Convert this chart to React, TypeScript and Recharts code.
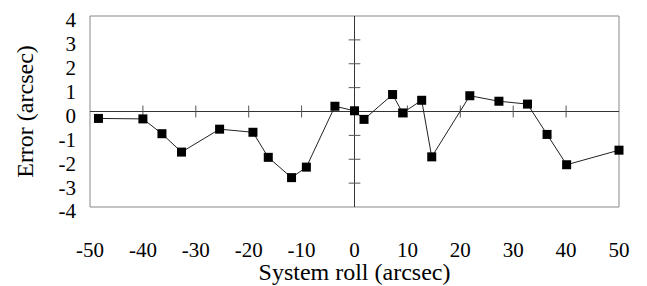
import { Label, Line, LineChart, ReferenceArea, ReferenceLine, XAxis, YAxis } from 'recharts'

const rollArcsec = [-48.4, -40.0, -36.4, -32.7, -25.5, -19.2, -16.3, -11.9, -9.1, -3.7, 0, 1.8, 7.2, 9.1, 12.7, 14.6, 21.8, 27.3, 32.7, 36.4, 40.1, 50.0]
const errorArcsec = [-0.29, -0.31, -0.93, -1.7, -0.74, -0.87, -1.92, -2.77, -2.33, 0.22, 0.03, -0.33, 0.71, -0.06, 0.47, -1.9, 0.66, 0.43, 0.31, -0.96, -2.23, -1.62]
const xTicks = [-50, -40, -30, -20, -10, 0, 10, 20, 30, 40, 50]
const yTicks = [-4, -3, -2, -1, 0, 1, 2, 3, 4]
// marks drawn on the axes that cross at zero
const innerXTicks = [-40, -30, -20, -10, 10, 20, 30, 40]
const innerYTicks = [-3, -2, -1, 1, 2, 3]

const FONT = '"Liberation Serif", "Times New Roman", serif'

const data = rollArcsec.map((x, i) => ({ x, y: errorArcsec[i] }))

function SquareDot(props: { cx?: number; cy?: number; index?: number }) {
  const { cx = 0, cy = 0, index } = props
  return <rect key={`dot-${index}`} x={cx - 4.5} y={cy - 4.5} width={9} height={9} fill="#000" />
}

function YTick({ x, y, payload }: { x: number; y: number; payload: { value: number } }) {
  return (
    <text x={x} y={y + 4} dy="0.355em" textAnchor="end" fontSize={21} fontFamily={FONT} fill="#000">
      {payload.value}
    </text>
  )
}

function XTick({ x, y, payload }: { x: number; y: number; payload: { value: number } }) {
  return (
    <text x={x} y={y} dy="0.71em" textAnchor="middle" fontSize={21} fontFamily={FONT} fill="#000">
      {payload.value}
    </text>
  )
}

function YTitle({ viewBox }: { viewBox?: { x: number; y: number; height: number } }) {
  const vb = viewBox ?? { x: 0, y: 16, height: 191 }
  const cx = vb.x + 33
  const cy = vb.y + vb.height / 2
  return (
    <text x={cx} y={cy} textAnchor="middle" transform={`rotate(-90, ${cx}, ${cy})`} fontSize={24} fontFamily={FONT} fill="#000">
      Error (arcsec)
    </text>
  )
}

export default function App() {
  return (
    <div style={{ position: 'absolute', left: 0, top: 0, background: '#fff' }}>
      <LineChart width={647} height={286} data={data} margin={{ top: 16, right: 28, bottom: 0, left: 0 }}>
        <ReferenceArea x1={-50} x2={50} y1={-4} y2={4} fill="none" stroke="#888" strokeWidth={1} />
        <XAxis
          dataKey="x"
          type="number"
          domain={[-50, 50]}
          ticks={xTicks}
          interval={0}
          height={79}
          axisLine={false}
          tickLine={false}
          tickSize={0}
          tickMargin={35}
          tick={XTick}
        >
          <Label value="System roll (arcsec)" position="insideBottom" offset={6} fontSize={24} fontFamily={FONT} fill="#000" />
        </XAxis>
        <YAxis
          type="number"
          domain={[-4, 4]}
          ticks={yTicks}
          interval={0}
          width={90}
          axisLine={false}
          tickLine={false}
          tickSize={0}
          tickMargin={14}
          tick={YTick}
        >
          <Label content={YTitle} />
        </YAxis>
        <ReferenceLine y={0} stroke="#333" strokeWidth={1} />
        <ReferenceLine x={0} stroke="#333" strokeWidth={1} />
        {innerXTicks.map(t => (
          <ReferenceLine key={`xt${t}`} segment={[{ x: t, y: -0.25 }, { x: t, y: 0.25 }]} stroke="#555" strokeWidth={1} />
        ))}
        {innerYTicks.map(t => (
          <ReferenceLine key={`yt${t}`} segment={[{ x: -1.1, y: t }, { x: 1.1, y: t }]} stroke="#555" strokeWidth={1} />
        ))}
        <Line
          dataKey="y"
          type="linear"
          stroke="#222"
          strokeWidth={1}
          dot={SquareDot}
          activeDot={false}
          isAnimationActive={false}
        />
      </LineChart>
    </div>
  )
}
